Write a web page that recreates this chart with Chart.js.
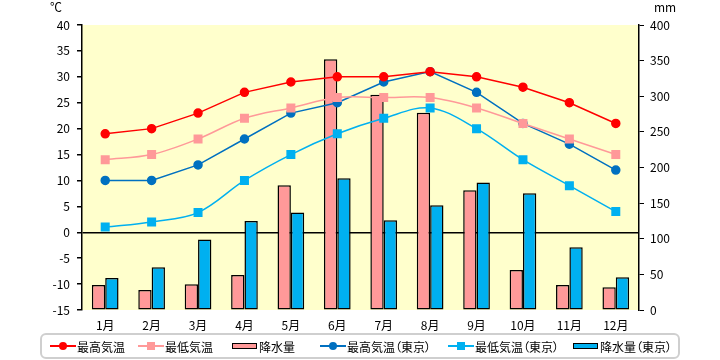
<!DOCTYPE html>
<html><head><meta charset="utf-8">
<script src="https://cdn.jsdelivr.net/npm/chart.js@4/dist/chart.umd.min.js"></script>
<style>
html,body{margin:0;padding:0;background:#fff;}
#wrap{position:relative;width:720px;height:360px;font-family:"Noto Sans CJK JP",sans-serif;}
canvas{position:absolute;left:0;top:0;}
.unit{position:absolute;font-size:12px;line-height:12px;color:#000;}
#legend{position:absolute;left:40px;top:333px;width:636px;height:22px;border:2px solid #cfcfcf;border-radius:6px;background:#fff;}
.item{position:absolute;top:0;height:22px;display:flex;align-items:center;font-size:12px;color:#000;font-feature-settings:"palt";white-space:nowrap;}
.sw{position:relative;width:26px;height:22px;margin-right:1px;}
.ln{position:absolute;left:0;right:0;top:10px;height:1.5px;}
.mk{position:absolute;left:9px;top:7px;width:8px;height:8px;}
.bx{position:absolute;left:0;top:8px;width:23px;height:4px;border:1.5px solid #000;}
</style></head>
<body>
<div id="wrap">
<canvas id="c" width="720" height="360"></canvas>
<div class="unit" style="left:50px;top:1px">℃</div>
<div class="unit" style="left:654px;top:1px">mm</div>
<div id="legend"></div>
</div>
<script>
const months = ['1月','2月','3月','4月','5月','6月','7月','8月','9月','10月','11月','12月'];
const maxTemp = [19,20,23,27,29,30,30,31,30,28,25,21];
const minTemp = [14,15,18,22,24,26,26,26,24,21,18,15];
const precip = [35,28,36,49,175,352,302,277,168,56,35,32];
const tokyoMax = [10,10,13,18,23,25,29,31,27,21,17,12];
const tokyoMin = [1,2,3.8,10,15,19,22,24,20,14,9,4];
const tokyoPrecip = [45,60,99,125,137,185,126,147,179,164,88,46];
const seriesNames = ['最高気温','最低気温','降水量','最高気温（東京）','最低気温（東京）','降水量（東京）'];
const tempTicks = {min:-15,max:40,step:5};
const precipTicks = {min:0,max:400,step:50};

const RED='#FF0000', PINK='#FF9999', BLUE='#0070C0', LBLUE='#00B0F0';
const FONT = {family:'"Noto Sans CJK JP", sans-serif', size:12};

const bgPlugin = {
  id:'bg',
  beforeDraw(chart){
    const a=chart.chartArea, ctx=chart.ctx;
    ctx.save(); ctx.fillStyle='#FFFFCC';
    ctx.fillRect(a.left,a.top,a.right-a.left,a.bottom-a.top);
    ctx.restore();
  }
};

const chart = new Chart(document.getElementById('c'), {
  type:'bar',
  data:{
    labels:months,
    datasets:[
      {type:'line',label:seriesNames[0],data:maxTemp,yAxisID:'y',borderColor:RED,backgroundColor:RED,borderWidth:1.5,pointRadius:4,pointHoverRadius:4,pointStyle:'circle',tension:0,order:0},
      {type:'line',label:seriesNames[1],data:minTemp,yAxisID:'y',borderColor:PINK,backgroundColor:PINK,borderWidth:1.5,pointRadius:5.3,pointHoverRadius:5.3,pointStyle:'rect',tension:0.35,order:0},
      {type:'bar',label:seriesNames[2],data:precip,yAxisID:'y2',backgroundColor:PINK,borderColor:'#000',borderWidth:1.5,borderSkipped:false,order:2},
      {type:'line',label:seriesNames[3],data:tokyoMax,yAxisID:'y',borderColor:BLUE,backgroundColor:BLUE,borderWidth:1.5,pointRadius:4,pointHoverRadius:4,pointStyle:'circle',tension:0,order:0},
      {type:'line',label:seriesNames[4],data:tokyoMin,yAxisID:'y',borderColor:LBLUE,backgroundColor:LBLUE,borderWidth:1.5,pointRadius:5.3,pointHoverRadius:5.3,pointStyle:'rect',tension:0.35,order:0},
      {type:'bar',label:seriesNames[5],data:tokyoPrecip,yAxisID:'y2',backgroundColor:LBLUE,borderColor:'#000',borderWidth:1.5,borderSkipped:false,order:2}
    ]
  },
  options:{
    responsive:false,animation:false,
    layout:{padding:{top:25,left:0,right:0,bottom:0}},
    datasets:{bar:{barPercentage:1,categoryPercentage:0.575}},
    plugins:{legend:{display:false},tooltip:{enabled:false}},
    scales:{
      x:{
        offset:true,
        grid:{display:false},
        border:{display:false},
        ticks:{color:'#000',font:FONT,padding:0,maxRotation:0},
        afterFit(s){s.height=50;}
      },
      y:{
        position:'left',min:tempTicks.min,max:tempTicks.max,z:1,
        ticks:{stepSize:tempTicks.step,color:'#000',font:FONT,padding:7},
        grid:{
          drawOnChartArea:true,drawTicks:true,tickLength:5,tickColor:'#000',lineWidth:1.5,
          color:(c)=> (c.tick && c.tick.value===0) ? '#000' : 'rgba(0,0,0,0)'
        },
        border:{display:true,color:'#000',width:1.5},
        afterFit(s){s.width=82;}
      },
      y2:{
        position:'right',min:precipTicks.min,max:precipTicks.max,
        ticks:{stepSize:precipTicks.step,color:'#000',font:FONT,padding:6},
        grid:{drawOnChartArea:false,drawTicks:true,tickLength:5,tickColor:'#000'},
        border:{display:true,color:'#000',width:1.5},
        afterFit(s){s.width=81;}
      }
    }
  },
  plugins:[bgPlugin]
});

// HTML legend built from the datasets
const legendX = [50,138,232,320,448,573];
const leg = document.getElementById('legend');
chart.data.datasets.forEach((ds,i)=>{
  const it=document.createElement('div');
  it.className='item';
  it.style.left=(legendX[i]-42)+'px';
  const sw=document.createElement('div');
  sw.className='sw';
  if(ds.type==='bar'){
    const b=document.createElement('div');b.className='bx';b.style.background=ds.backgroundColor;sw.appendChild(b);
  } else {
    const l=document.createElement('div');l.className='ln';l.style.background=ds.borderColor;sw.appendChild(l);
    const m=document.createElement('div');m.className='mk';m.style.background=ds.backgroundColor;
    if(ds.pointStyle==='circle') m.style.borderRadius='50%';
    sw.appendChild(m);
  }
  it.appendChild(sw);
  const t=document.createElement('span');t.textContent=ds.label;it.appendChild(t);
  leg.appendChild(it);
});
</script>
</body></html>
